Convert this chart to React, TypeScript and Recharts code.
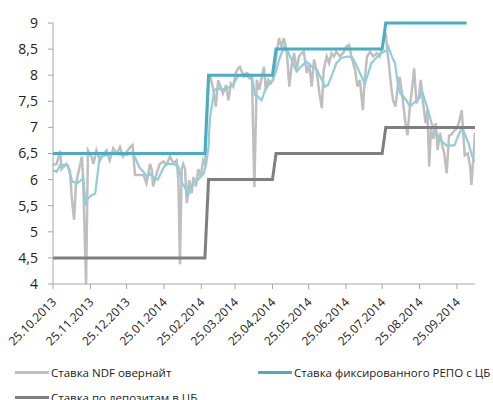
import { LineChart, Line, XAxis, YAxis } from "recharts";

const START = Date.UTC(2013, 9, 25);
const DAY = 86400000;

const xTickLabels = [
  "25.10.2013", "25.11.2013", "25.12.2013", "25.01.2014", "25.02.2014", "25.03.2014",
  "25.04.2014", "25.05.2014", "25.06.2014", "25.07.2014", "25.08.2014", "25.09.2014",
];
const yTicks = [4, 4.5, 5, 5.5, 6, 6.5, 7, 7.5, 8, 8.5, 9];

// [days since 25.10.2013, rate]
const ndfOvernight: [number, number][] = [
  [0, 6.28], [3, 6.3], [6, 6.55], [7, 6.2], [11, 6.3], [14, 6.18], [15.5, 5.67], [17.5, 5.23],
  [19, 5.9], [21, 6.13], [24, 6.44], [25, 6.0], [27.4, 4.0], [29, 6.56], [32, 6.44], [33.5, 6.3],
  [36, 6.56], [39, 6.37], [42, 6.5], [44.5, 6.56], [47, 6.37], [50, 6.6], [53, 6.5], [55.5, 6.62],
  [58, 6.44], [61, 6.53], [64, 6.62], [66, 6.66], [68, 6.09], [72, 6.09], [75, 6.09], [77.5, 5.93],
  [80.5, 6.3], [82, 6.18], [83, 5.87], [86, 6.12], [88.5, 6.3], [91.5, 6.35], [94, 6.28], [97, 6.44],
  [100, 6.31], [102.5, 6.37], [104, 5.99], [105.3, 4.38], [106.7, 6.2], [108, 6.3], [109.5, 6.2],
  [111, 5.55], [113, 5.99], [115, 5.74], [116.5, 6.05], [118.5, 5.87], [120.5, 6.2], [122.5, 6.05],
  [124.5, 6.37], [126, 6.3], [129.4, 8.0], [130.2, 8.0], [133, 7.72], [135, 7.4], [137, 7.9],
  [139, 7.78], [141, 7.65], [143.5, 7.81], [145.5, 7.52], [147.5, 7.84], [149.5, 7.78], [151.5, 8.04],
  [153.5, 8.13], [155, 8.16], [156.5, 8.07], [158.5, 7.97], [160.5, 8.0], [163, 7.94], [165, 7.97],
  [167, 5.86], [169, 7.91], [171, 7.72], [173, 7.94], [175, 8.16], [176.5, 7.72], [178.5, 7.91],
  [180.5, 7.84], [182.5, 7.91], [185.5, 8.42], [187.5, 8.71], [189.5, 8.55], [191.5, 8.71],
  [194, 8.42], [196, 7.78], [198, 8.2], [200, 8.42], [202, 8.1], [204, 8.36], [206, 8.42],
  [208, 8.45], [210.5, 8.04], [212.5, 8.23], [214.5, 7.78], [216.5, 8.3], [218.5, 8.1],
  [221, 7.65], [223, 7.37], [224.5, 8.1], [227, 8.36], [229, 8.23], [231, 8.42], [233, 8.36],
  [235, 8.45], [238, 8.36], [240.5, 8.42], [243.5, 8.55], [245.5, 8.58], [247.5, 8.36], [250.5, 8.1],
  [252.5, 7.78], [254.5, 7.91], [257, 7.33], [258.5, 7.91], [260.5, 8.36], [263, 8.45], [265.5, 8.36],
  [268.5, 8.42], [271, 8.36], [274.5, 8.67], [276, 8.8], [277.5, 8.42], [278.5, 8.23], [280.5, 7.78],
  [282, 7.52], [284, 7.4], [286, 7.78], [287.5, 7.97], [289.5, 7.65], [292, 7.14], [294, 6.85],
  [296, 7.4], [298, 7.78], [299.5, 8.13], [301.5, 7.46], [303.5, 7.59], [305, 7.91], [307, 7.46],
  [309, 7.08], [310.5, 7.33], [312, 6.25], [313.5, 6.97], [315.5, 6.78], [317.5, 7.08], [319, 6.57],
  [321, 6.9], [323, 6.63], [324.5, 6.5], [326.5, 6.12], [328.5, 6.84], [330.5, 6.87], [333, 6.94],
  [334.5, 6.97], [336.5, 7.08], [339, 7.33], [340, 6.97], [341.5, 6.46], [344, 6.5], [346, 6.25],
  [347, 5.9], [348.5, 6.37], [350, 6.9],
];

const ndfAverage: [number, number][] = [
  [0, 6.18], [3, 6.15], [6, 6.28], [12, 6.28], [16, 5.96], [20, 5.93], [24, 6.0], [25, 6.05],
  [27, 5.55], [29, 5.64], [32, 5.7], [35, 5.73], [38, 6.3], [39, 6.44], [44.5, 6.47], [50, 6.5],
  [56, 6.48], [61, 6.47], [66, 6.53], [69, 6.37], [72, 6.22], [75, 6.15], [78, 6.05], [80, 6.12],
  [83, 6.05], [87, 6.0], [91, 6.2], [94, 6.3], [100, 6.3], [104, 6.25], [107, 5.93], [109, 5.87],
  [112, 5.7], [116, 5.93], [120, 5.99], [125, 6.12], [127, 6.3], [129, 6.63], [130, 7.14],
  [132, 7.46], [134, 7.72], [137, 7.75], [140, 7.72], [144, 7.75], [147, 7.78], [150, 7.84],
  [153, 7.97], [156, 8.0], [161, 8.04], [165, 7.97], [167.5, 7.62], [170, 7.59], [173, 7.52],
  [176, 7.72], [178.5, 7.81], [182, 7.91], [184, 8.0], [188, 8.33], [192, 8.56], [195, 8.45],
  [199, 8.23], [202, 8.07], [206, 8.17], [210, 8.26], [214.5, 8.17], [219, 8.1], [223, 7.91],
  [225.5, 7.78], [228, 7.81], [232, 8.04], [235, 8.23], [239, 8.33], [245, 8.36], [248.5, 8.33],
  [252, 8.17], [256, 7.97], [258.7, 7.84], [261.5, 8.04], [264, 8.23], [268, 8.33], [272.5, 8.42],
  [276.7, 8.48], [278, 8.55], [281, 8.36], [283.6, 8.23], [286, 7.84], [288, 7.65], [290.5, 7.59],
  [293, 7.52], [296, 7.4], [299, 7.46], [301.5, 7.52], [304, 7.56], [306, 7.71], [308.5, 7.52],
  [311, 7.33], [314, 7.08], [317, 6.9], [321, 6.78], [323.6, 6.71], [326.5, 6.65], [329, 6.65],
  [333, 6.66], [336, 6.84], [339.4, 6.99], [341.6, 6.87], [344.4, 6.71], [347, 6.5], [349.4, 6.34],
];

const repoRate: [number, number][] = [
  [0, 6.5], [126, 6.5], [129, 8], [182, 8], [185, 8.5], [273, 8.5], [276, 9], [343, 9],
];

const depositRate: [number, number][] = [
  [0, 4.5], [126, 4.5], [129, 6], [182, 6], [185, 6.5], [273, 6.5], [276, 7], [350, 7],
];

const toRows = (pairs: [number, number][]) => pairs.map(([d, v]) => ({ d, v }));

const dayOf = (label: string) => {
  const [dd, mm, yy] = label.split(".").map(Number);
  return Math.round((Date.UTC(yy, mm - 1, dd) - START) / DAY);
};

const xTicks = xTickLabels.map(dayOf);

const fmtDay = (d: number) => {
  const dt = new Date(START + d * DAY);
  const p = (n: number) => String(n).padStart(2, "0");
  return `${p(dt.getUTCDate())}.${p(dt.getUTCMonth() + 1)}.${dt.getUTCFullYear()}`;
};

const FONT = "'Open Sans', sans-serif";

const DateTick = (props: any) => {
  const { x, y, payload } = props;
  return (
    <text
      x={x + 4}
      y={y + 12}
      transform={`rotate(-45, ${x + 4}, ${y + 12})`}
      textAnchor="end"
      fontSize={12}
      fontFamily={FONT}
      fill="#222"
    >
      {fmtDay(payload.value)}
    </text>
  );
};

const legendItems = [
  { name: "Ставка NDF овернайт", color: "#BFBFBF", left: 15, top: 372 },
  { name: "Ставка фиксированного РЕПО с ЦБ", color: "#4BACC6", left: 258, top: 372 },
  { name: "Ставка по депозитам в ЦБ", color: "#7F7F7F", left: 15, top: 397 },
];

export default function App() {
  return (
    <div style={{ position: "absolute", left: 0, top: 0, width: 493, height: 400, overflow: "hidden" }}>
      <LineChart width={493} height={400} margin={{ top: 23, right: 18, left: 0, bottom: 86 }}>
        <XAxis
          dataKey="d"
          type="number"
          domain={[0, 350]}
          ticks={xTicks}
          interval={0}
          allowDataOverflow
          height={30}
          stroke="#A6A6A6"
          tickSize={5}
          tick={<DateTick />}
        />
        <YAxis
          type="number"
          domain={[4, 9]}
          ticks={yTicks}
          interval={0}
          width={53}
          stroke="#A6A6A6"
          tickSize={5}
          tickMargin={10}
          tick={{ fontSize: 14, fontFamily: FONT, fill: "#222" }}
          tickFormatter={(v: number) => String(v).replace(".", ",")}
        />
        <Line data={toRows(ndfOvernight)} dataKey="v" type="linear" stroke="#BFBFBF" strokeWidth={2.5} dot={false} isAnimationActive={false} />
        <Line data={toRows(ndfAverage)} dataKey="v" type="linear" stroke="#92CDDC" strokeWidth={2.25} dot={false} isAnimationActive={false} />
        <Line data={toRows(repoRate)} dataKey="v" type="linear" stroke="#4BACC6" strokeWidth={3} dot={false} isAnimationActive={false} />
        <Line data={toRows(depositRate)} dataKey="v" type="linear" stroke="#7F7F7F" strokeWidth={3} dot={false} isAnimationActive={false} />
      </LineChart>
      {legendItems.map((it) => (
        <div
          key={it.name}
          style={{
            position: "absolute",
            left: it.left,
            top: it.top - 9,
            display: "flex",
            alignItems: "center",
            fontFamily: FONT,
            fontSize: 11.5,
            color: "#222",
            whiteSpace: "nowrap",
            height: 18,
          }}
        >
          <span style={{ display: "inline-block", width: 34, height: 3, background: it.color, marginRight: 2 }} />
          {it.name}
        </div>
      ))}
    </div>
  );
}
